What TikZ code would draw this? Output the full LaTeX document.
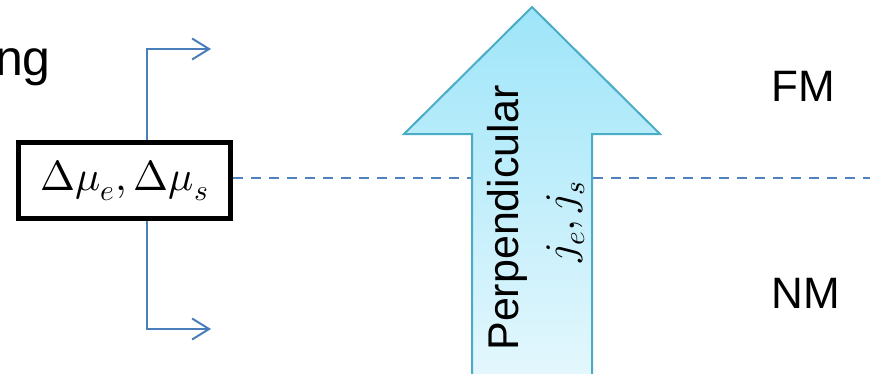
\documentclass[tikz,border=0pt]{standalone}
\usepackage{fontspec}
\usepackage{unicode-math}
\setmainfont{Liberation Sans}
\setmathfont{Latin Modern Math}
\usetikzlibrary{arrows.meta}
\definecolor{lineblue}{HTML}{4A7EBB}
\definecolor{dashblue}{HTML}{4F81BD}
\definecolor{arrowborder}{HTML}{4BACC6}
\definecolor{arrowtop}{RGB}{158,229,249}
\definecolor{arrowbot}{RGB}{228,247,253}
\tikzset{
  bluelink/.style={draw=lineblue, line width=2pt, -{Straight Barb[length=17pt,width=21pt,line width=2pt]}},
  layerline/.style={draw=dashblue, line width=2.2pt, dash pattern=on 10pt off 8pt},
  potbox/.style={draw=black, line width=5pt, minimum width=212pt, minimum height=76pt, inner sep=0pt, font=\fontsize{42}{48}\selectfont},
  bigarrow/.style={draw=arrowborder, line width=2pt, line join=miter, top color=arrowtop, bottom color=arrowbot},
  lbl/.style={inner sep=0pt, font=\fontsize{44}{50}\selectfont},
}
\begin{document}
\begin{tikzpicture}[x=1pt,y=-1pt]
\useasboundingbox (0,0) rectangle (870,373);
\clip (0,0) rectangle (870,373);
% partial heading text
\node[inner sep=0pt, anchor=base east, font=\fontsize{50}{56}\selectfont] (ng) at (51,75) {ng};
% potential box
\node[potbox] (box) at (124.5,180.5) {$\Delta\mu_e,\Delta\mu_s$};
% branches
\coordinate (vt) at (147,49);
\coordinate (vb) at (147,329);
\coordinate (ht) at (211,49);
\coordinate (hb) at (211,329);
\draw[bluelink] (box.north -| vt) -- (vt) -- (ht);
\draw[bluelink] (box.south -| vb) -- (vb) -- (hb);
% interface
\coordinate (dl) at (233,178);
\coordinate (dr) at (870,178);
\draw[layerline] (dl) -- (dr);
% big arrow
\path[bigarrow] (532,7) -- (660,134) -- (592,134) -- (592,376) -- (472,376) -- (472,134) -- (404,134) -- cycle;
\node[inner sep=0pt, rotate=90, anchor=base, font=\fontsize{43}{48}\selectfont] (perp) at (518,218) {Perpendicular};
\node[inner sep=0pt, rotate=90, anchor=base, font=\fontsize{42}{48}\selectfont] (jj) at (574,222) {$j_e,j_s$};
% layer labels
\node[lbl, anchor=base west] (fm) at (771.5,101) {FM};
\node[lbl, anchor=base west] (nm) at (771.5,308) {NM};
\end{tikzpicture}
\end{document}
